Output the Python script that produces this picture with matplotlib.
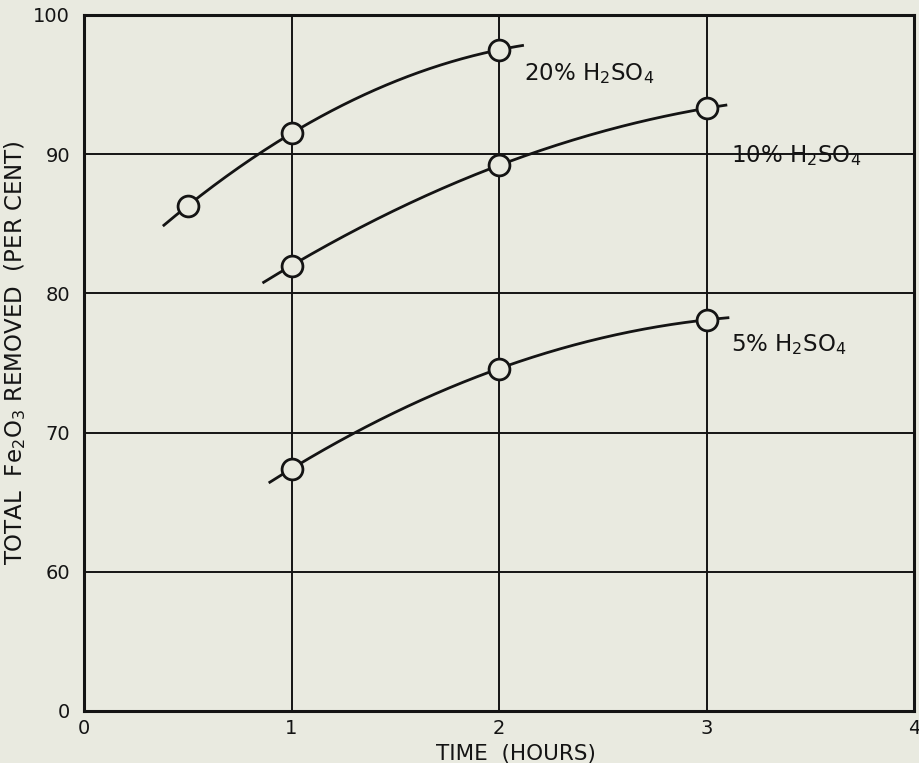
import numpy as np
import matplotlib.pyplot as plt

# Fe2O3 removal vs. leaching time for three acid strengths
hours_20 = [0.5, 1, 2]
removed_20 = [86.3, 91.5, 97.5]
hours_10 = [1, 2, 3]
removed_10 = [82.0, 89.2, 93.3]
hours_5 = [1, 2, 3]
removed_5 = [67.4, 74.6, 78.1]

# how far each smoothed curve is carried past its end points (hours)
span_20 = (0.38, 2.12)
span_10 = (0.86, 3.10)
span_5 = (0.89, 3.11)

labels = ['20% H$_2$SO$_4$', '10% H$_2$SO$_4$', '5% H$_2$SO$_4$']
label_pos = [(2.12, 95.8), (3.12, 89.9), (3.12, 76.3)]

yticks = [50, 60, 70, 80, 90, 100]
ytick_labels = ['0', '60', '70', '80', '90', '100']
xticks = [0, 1, 2, 3, 4]

bg = '#e9eae0'
ink = '#141414'

plt.rcParams['font.family'] = 'DejaVu Sans'
plt.rcParams['mathtext.fontset'] = 'dejavusans'

fig = plt.figure(figsize=(9.19, 7.63), dpi=100, facecolor=bg)
ax = fig.add_axes([84/919, 1 - 711/763, 830/919, 696/763], facecolor=bg)

for xs, ys, span in [(hours_20, removed_20, span_20),
                     (hours_10, removed_10, span_10),
                     (hours_5, removed_5, span_5)]:
    coef = np.polyfit(xs, ys, 2)  # smooth curve through the measured points
    t = np.linspace(span[0], span[1], 200)
    ax.plot(t, np.polyval(coef, t), color=ink, lw=2.0, zorder=3, solid_capstyle='butt')
    ax.plot(xs, ys, 'o', ms=15, mfc=bg, mec=ink, mew=2.0, zorder=4)

for txt, (x, y) in zip(labels, label_pos):
    ax.text(x, y, txt, fontsize=16.5, color=ink, ha='left', va='center')

ax.set_xlim(0, 4)
ax.set_ylim(50, 100)
ax.set_xticks(xticks)
ax.set_yticks(yticks)
ax.set_yticklabels(ytick_labels)
ax.tick_params(length=0, labelsize=14, colors=ink, pad=10)
ax.tick_params(axis='x', pad=6)

for v in [1, 2, 3]:
    ax.axvline(v, color=ink, lw=1.4, zorder=1)
for v in [60, 70, 80, 90]:
    ax.axhline(v, color=ink, lw=1.4, zorder=1)
for s in ax.spines.values():
    s.set_linewidth(2.2)
    s.set_color(ink)

ax.set_xlabel('TIME  (HOURS)', fontsize=15.5, color=ink)
ax.xaxis.set_label_coords(0.52, -0.047)
ax.set_ylabel('TOTAL  Fe$_2$O$_3$ REMOVED  (PER CENT)', fontsize=16.5, color=ink)
ax.yaxis.set_label_coords(-0.068, 0.515)

fig.savefig('out.png', dpi=100, facecolor=bg)
